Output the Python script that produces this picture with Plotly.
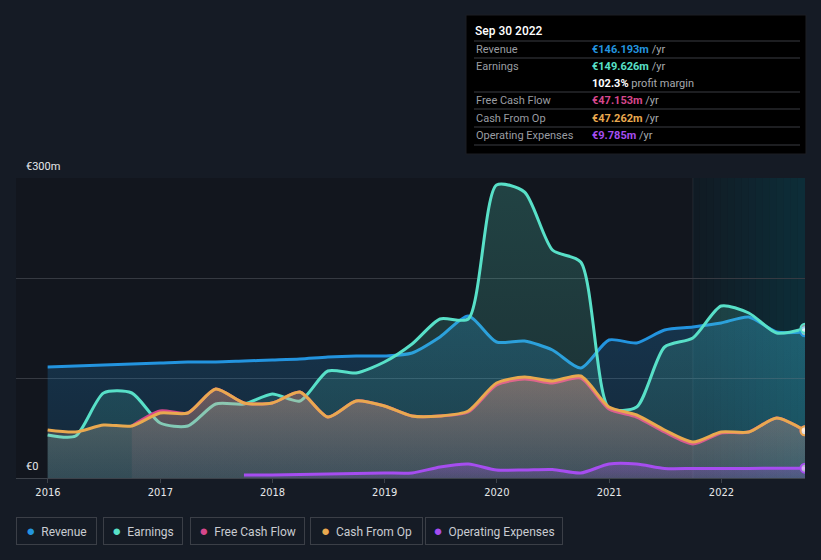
import plotly.graph_objects as go
import pandas as pd

# ---------------- data ----------------
dates = ["2015-12-31", "2016-03-31", "2016-06-30", "2016-09-30", "2016-12-31",
         "2017-03-31", "2017-06-30", "2017-09-30", "2017-12-31", "2018-03-31",
         "2018-06-30", "2018-09-30", "2018-12-31", "2019-03-31", "2019-06-30",
         "2019-09-30", "2019-12-31", "2020-03-31", "2020-06-30", "2020-09-30",
         "2020-12-31", "2021-03-31", "2021-06-30", "2021-09-30", "2021-12-31",
         "2022-03-31", "2022-06-30", "2022-09-30"]

revenue = [111, 112, 113, 114, 115, 116, 116, 117, 118, 119, 121, 122, 122, 125,
           141, 162, 136, 137, 128, 110, 138, 135, 148, 151, 155, 161, 146, 146.193]
earnings = [43, 42, 85, 85, 55, 52, 74, 74, 84, 77, 107, 105, 116, 134,
            159, 159, 293, 286, 228, 216, 70, 71, 131, 140, 172, 165, 145, 149.626]
cash_from_op = [48, 46, 53, 52, 65, 65, 89, 75, 75, 86, 61, 77, 72, 62,
                62, 67, 95, 101, 97, 102, 71, 63, 48, 36, 46, 46, 60, 47.262]
fcf_dates = dates[3:]
free_cash_flow = [52, 67, 65, 89, 75, 75, 86, 61, 77, 72, 62,
                  62, 66, 93, 99, 95, 100, 69, 61, 46, 34, 45, 46, 60, 47.153]
opex_dates = dates[7:]
operating_expenses = [3, 3, 3.5, 4, 4.5, 5, 5, 11, 14, 8, 8, 8.5, 5, 14, 14,
                      9.5, 9.5, 9.5, 9.6, 9.8, 9.785]

year_ticks = ["2016-01-01", "2017-01-01", "2018-01-01", "2019-01-01",
              "2020-01-01", "2021-01-01", "2022-01-01"]
year_labels = ["2016", "2017", "2018", "2019", "2020", "2021", "2022"]
y_labels = {0: "€0", 300: "€300m"}

legend_names = ["Revenue", "Earnings", "Free Cash Flow", "Cash From Op", "Operating Expenses"]

tooltip_title = "Sep 30 2022"
tooltip_rows = [("Revenue", "€146.193m", "#2394df"),
                ("Earnings", "€149.626m", "#58e0c8"),
                ("Free Cash Flow", "€47.153m", "#d6478c"),
                ("Cash From Op", "€47.262m", "#e9a94f"),
                ("Operating Expenses", "€9.785m", "#a64df0")]
profit_margin = "102.3%"

# ---------------- styling ----------------
C_REV = "#2394df"
C_EARN = "#58e0c8"
C_FCF = "#d6478c"
C_CFO = "#e9a94f"
C_OPEX = "#a64df0"

W, H = 821, 560
ML, MR, MT, MB = 16, 16, 178, 82
PW, PH = W - ML - MR, H - MT - MB


def px_x(px):
    return (px - ML) / PW


def px_y(py):
    return (H - MB - py) / PH


fig = go.Figure()

SM = 0.7
FONT = "Roboto, sans-serif"


def add_series(x, y, color, grad_top, grad_bot, name):
    fig.add_trace(go.Scatter(
        x=x, y=y, mode="lines", name=name,
        line=dict(color=color, width=3, shape="spline", smoothing=SM),
        fill="tozeroy",
        fillgradient=dict(type="vertical",
                          colorscale=[[0, grad_bot], [1, grad_top]]),
        hoverinfo="skip", showlegend=False))


def add_end_marker(x, y, color):
    fig.add_trace(go.Scatter(
        x=[x[-1]], y=[y[-1]], mode="markers",
        marker=dict(size=9, color="rgba(255,255,255,0.55)",
                    line=dict(color=color, width=2)),
        hoverinfo="skip", showlegend=False))


d_all = pd.to_datetime(dates)
d_fcf = pd.to_datetime(fcf_dates)
d_opex = pd.to_datetime(opex_dates)

add_series(d_all, revenue, C_REV,
           "rgba(35,148,223,0.24)", "rgba(35,148,223,0.14)", "Revenue")
add_series(d_all, earnings, C_EARN,
           "rgba(88,224,200,0.22)", "rgba(88,224,200,0.12)", "Earnings")
add_series(d_fcf, free_cash_flow, C_FCF,
           "rgba(225,110,120,0.18)", "rgba(190,120,140,0.08)", "Free Cash Flow")
add_series(d_all, cash_from_op, C_CFO,
           "rgba(245,178,135,0.30)", "rgba(205,170,165,0.13)", "Cash From Op")
add_series(d_opex, operating_expenses, C_OPEX,
           "rgba(166,77,240,0.30)", "rgba(166,77,240,0.15)", "Operating Expenses")
add_end_marker(d_all, revenue, C_REV)
add_end_marker(d_all, earnings, C_EARN)
add_end_marker(d_fcf, free_cash_flow, C_FCF)
add_end_marker(d_all, cash_from_op, C_CFO)
add_end_marker(d_opex, operating_expenses, C_OPEX)

shapes = []
# highlight band for last 12 months (horizontal gradient via strips)
band_start = pd.Timestamp("2021-09-30")
band_end = pd.Timestamp("2022-09-30")
n = 16
for i in range(n):
    a = band_start + (band_end - band_start) * i / n
    b = band_start + (band_end - band_start) * (i + 1) / n
    alpha = 0.05 + 0.21 * (i + 0.5) / n
    shapes.append(dict(type="rect", xref="x", yref="paper", x0=a, x1=b, y0=0, y1=1,
                       fillcolor=f"rgba(0,115,135,{alpha:.3f})", line=dict(width=0),
                       layer="below"))
shapes.append(dict(type="line", xref="x", yref="paper", x0=band_start, x1=band_start,
                   y0=0, y1=1, line=dict(color="rgba(255,255,255,0.08)", width=1),
                   layer="below"))

# tooltip box
shapes.append(dict(type="rect", xref="paper", yref="paper",
                   x0=px_x(466), x1=px_x(806), y0=px_y(154), y1=px_y(15),
                   fillcolor="#000000", line=dict(color="#1c1f24", width=1)))
for ly in [41, 58, 92, 109, 127, 145]:
    shapes.append(dict(type="line", xref="paper", yref="paper",
                       x0=px_x(474), x1=px_x(800), y0=px_y(ly), y1=px_y(ly),
                       line=dict(color="#3a3d42", width=1)))

annotations = []
# y labels
for val, txt in y_labels.items():
    annotations.append(dict(xref="paper", yref="y", x=px_x(24), y=val, text=txt,
                            showarrow=False, xanchor="left", yanchor="bottom", yshift=3,
                            font=dict(family=FONT, size=11, color="#e6e8ea")))

# tooltip text
annotations.append(dict(xref="paper", yref="paper", x=px_x(473), y=px_y(31),
                        text=tooltip_title, showarrow=False,
                        xanchor="left", yanchor="middle",
                        font=dict(family="Roboto Medium, Roboto, sans-serif", size=12,
                                  color="#ffffff", weight=500)))
row_y = [49, 66, 100, 118, 135]
for (lab, val, col), yy in zip(tooltip_rows, row_y):
    annotations.append(dict(xref="paper", yref="paper", x=px_x(474), y=px_y(yy),
                            text=lab, showarrow=False, xanchor="left", yanchor="middle",
                            font=dict(family=FONT, size=11, color="#9a9da2")))
    annotations.append(dict(xref="paper", yref="paper", x=px_x(590), y=px_y(yy),
                            text=f"<b><span style='color:{col}'>{val}</span></b>"
                                 f"<span style='color:#a7aaae'> /yr</span>",
                            showarrow=False, xanchor="left", yanchor="middle",
                            font=dict(family=FONT, size=11, color="#a7aaae")))
annotations.append(dict(xref="paper", yref="paper", x=px_x(590), y=px_y(83),
                        text=f"<b><span style='color:#ffffff'>{profit_margin}</span></b>"
                             f"<span style='color:#a7aaae'> profit margin</span>",
                        showarrow=False, xanchor="left", yanchor="middle",
                        font=dict(family=FONT, size=11, color="#a7aaae")))

# legend boxes
legend_colors = [C_REV, C_EARN, C_FCF, C_CFO, C_OPEX]
legend_boxes = [(16, 97), (103, 183), (190, 305), (310, 423), (425, 563)]
for name, col, (bx0, bx1) in zip(legend_names, legend_colors, legend_boxes):
    annotations.append(dict(
        xref="paper", yref="paper", x=px_x(bx0), y=px_y(531),
        xanchor="left", yanchor="middle", showarrow=False,
        text=f"<span style='color:{col};font-size:15px'>●</span>  {name}",
        width=bx1 - bx0 - 12, height=16, align="center",
        borderpad=5, borderwidth=1, bordercolor="#3b3f47",
        font=dict(family=FONT, size=12, color="#c9ccd1")))

fig.update_layout(
    width=W, height=H,
    margin=dict(l=ML, r=MR, t=MT, b=MB),
    paper_bgcolor="#151b25",
    plot_bgcolor="#12161e",
    shapes=shapes,
    annotations=annotations,
    showlegend=False,
    xaxis=dict(type="date", range=["2015-09-19", "2022-09-30"],
               tickvals=pd.to_datetime(year_ticks), ticktext=year_labels,
               showgrid=False, zeroline=False, showline=True, linecolor="#3d424a",
               ticks="outside", ticklen=4, tickcolor="#3d424a",
               tickfont=dict(family="DejaVu Sans Condensed, Liberation Sans Narrow, Roboto, sans-serif",
                             size=11, color="#e6e8ea")),
    yaxis=dict(range=[0, 300], tickvals=[0, 100, 200, 300], showticklabels=False,
               showgrid=True, gridcolor="#363a42", gridwidth=1, zeroline=False,
               fixedrange=True),
)

fig.write_html("out.html")
